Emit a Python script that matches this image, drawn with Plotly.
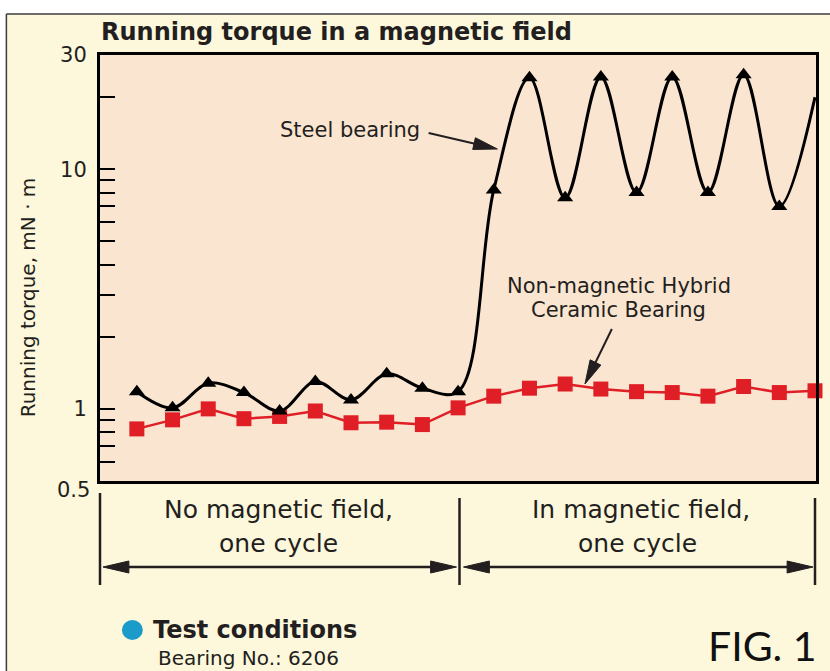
import math
import plotly.graph_objects as go

# ---------------- data ----------------
sample_idx = list(range(20))
steel_torque = [1.18, 1.01, 1.28, 1.17, 0.98, 1.30, 1.09, 1.40, 1.22, 1.18,
                8.2, 24.1, 7.6, 24.3, 8.0, 24.3, 8.0, 24.8, 7.0, 20.0]
ceramic_torque = [0.825, 0.90, 1.00, 0.91, 0.93, 0.98, 0.875, 0.88, 0.86, 1.01,
                  1.13, 1.22, 1.27, 1.21, 1.18, 1.17, 1.13, 1.24, 1.17, 1.19]
steel_marker_count = 19
y_tickvals = [0.5, 0.6, 0.7, 0.8, 0.9, 1, 2, 3, 4, 5, 6, 7, 8, 9, 10, 20, 30]
y_labels = {1: "1", 10: "10", 30: "30"}
y_range = [0.5, 30]

# ---------------- layout helpers ----------------
W, H = 830, 671
L, R, T, B = 100, 11, 55, 190
PW, PH = W - L - R, H - T - B
INK = "#231f20"
FONT = "DejaVu Sans"


def px(x):
    return (x - L) / PW


def py(y):
    return (H - B - y) / PH


shapes = []
annotations = []


def head(xt, yt, ux, uy, hl, hw):
    bx, by = xt - ux * hl, yt - uy * hl
    nx, ny = -uy, ux
    path = (f"M{px(xt)},{py(yt)} L{px(bx + nx * hw)},{py(by + ny * hw)} "
            f"L{px(bx - nx * hw)},{py(by - ny * hw)} Z")
    shapes.append(dict(type="path", xref="paper", yref="paper", path=path,
                       fillcolor=INK, line=dict(color=INK, width=1)))
    return bx + ux * 2, by + uy * 2


def arrow(x0, y0, x1, y1, hl=22, hw=6, w=2, both=False):
    dx, dy = x1 - x0, y1 - y0
    d = math.hypot(dx, dy)
    ux, uy = dx / d, dy / d
    ex, ey = head(x1, y1, ux, uy, hl, hw)
    sx, sy = x0, y0
    if both:
        sx, sy = head(x0, y0, -ux, -uy, hl, hw)
    shapes.append(dict(type="line", xref="paper", yref="paper",
                       x0=px(sx), y0=py(sy), x1=px(ex), y1=py(ey),
                       line=dict(color=INK, width=w)))


def text(s, x, y, size, xanchor="center", angle=0, family=FONT, color=INK):
    annotations.append(dict(text=s, x=px(x), y=py(y), xref="paper", yref="paper",
                            xanchor=xanchor, yanchor="middle", showarrow=False,
                            textangle=angle, font=dict(family=family, size=size, color=color)))


# white margin above/left of the frame and frame lines
shapes.append(dict(type="rect", xref="paper", yref="paper", x0=px(-5), x1=px(845),
                   y0=py(14), y1=py(-5), fillcolor="white", line=dict(width=0), layer="below"))
shapes.append(dict(type="rect", xref="paper", yref="paper", x0=px(-5), x1=px(6),
                   y0=py(690), y1=py(-5), fillcolor="white", line=dict(width=0), layer="below"))
shapes.append(dict(type="line", xref="paper", yref="paper", x0=px(6), x1=px(845),
                   y0=py(14), y1=py(14), line=dict(color="#3c3c3c", width=1.5)))
shapes.append(dict(type="line", xref="paper", yref="paper", x0=px(6), x1=px(6),
                   y0=py(14), y1=py(690), line=dict(color="#3c3c3c", width=1.5)))

# bracket lines under the plot
for xv, ytop in [(100, 493), (461, 498), (818, 498)]:
    shapes.append(dict(type="line", xref="paper", yref="paper", x0=px(xv), x1=px(xv),
                       y0=py(ytop), y1=py(585), line=dict(color=INK, width=2.5)))
arrow(103, 567, 458, 567, hl=26, hw=6, w=2.5, both=True)
arrow(465, 567, 816, 567, hl=26, hw=6, w=2.5, both=True)

# pointer arrows
arrow(430, 133, 499, 149, hl=24, hw=6, w=2)
arrow(614, 329, 587, 384, hl=24, hw=6, w=2)

# texts
text("<b>Running torque in a magnetic field</b>", 99, 32, 24, xanchor="left")
text("Running torque, mN · m", 28, 297, 20, angle=-90)
text("0.5", 92, 490, 21, xanchor="right")
text("Steel bearing", 351, 130, 21)
text("Non-magnetic Hybrid", 621, 286, 21)
text("Ceramic Bearing", 621, 310, 21)
text("No magnetic field,", 279, 509, 25)
text("one cycle", 279, 543, 25)
text("In magnetic field,", 643, 509, 25)
text("one cycle", 640, 543, 25)
text("<b>Test conditions</b>", 151, 630, 24, xanchor="left")
text("Bearing No.: 6206", 156, 658, 20, xanchor="left")
text("FIG. 1", 822, 645, 41, xanchor="right", family="Lato", color="#111111")

# teal dot
shapes.append(dict(type="circle", xref="paper", yref="paper", x0=px(122), x1=px(143),
                   y0=py(640), y1=py(620), fillcolor="#1b9bc9", line=dict(width=0)))

fig = go.Figure()
fig.add_trace(go.Scatter(x=sample_idx, y=ceramic_torque, mode="lines+markers",
                         line=dict(color="#e01e26", width=2.5),
                         marker=dict(symbol="square", size=15, color="#e01e26"),
                         cliponaxis=False, showlegend=False))
fig.add_trace(go.Scatter(x=sample_idx, y=steel_torque, mode="lines",
                         line=dict(color="black", width=3, shape="spline", smoothing=1.0),
                         showlegend=False))
fig.add_trace(go.Scatter(x=sample_idx[:steel_marker_count], y=steel_torque[:steel_marker_count],
                         mode="markers", marker=dict(symbol="triangle-up", size=14, color="black"),
                         cliponaxis=False, showlegend=False))

x_lo = 0 - 37 / 35.84
x_hi = 19 + 1 / 35.84

fig.update_layout(
    width=W, height=H,
    margin=dict(l=L, r=R, t=T, b=B, pad=0),
    paper_bgcolor="#fdf8dc",
    plot_bgcolor="#fae5d0",
    shapes=shapes,
    annotations=annotations,
    showlegend=False,
    xaxis=dict(range=[x_lo, x_hi], showline=True, mirror=True, linewidth=3, linecolor="black",
               showgrid=False, zeroline=False, showticklabels=False, ticks=""),
    yaxis=dict(type="log", range=[math.log10(y_range[0]), math.log10(y_range[1])],
               tickvals=y_tickvals, ticktext=[y_labels.get(v, "") for v in y_tickvals],
               ticks="inside", ticklen=15, tickwidth=2, tickcolor="black",
               showline=True, mirror=True, linewidth=3, linecolor="black",
               showgrid=False, zeroline=False, ticklabelstandoff=6,
               tickfont=dict(family=FONT, size=21, color=INK)),
)

fig.write_html("out.html", config={"displayModeBar": False}, post_script=(
    "document.documentElement.style.overflow='hidden';"
    "document.body.style.margin='0';document.body.style.overflow='hidden';"))
